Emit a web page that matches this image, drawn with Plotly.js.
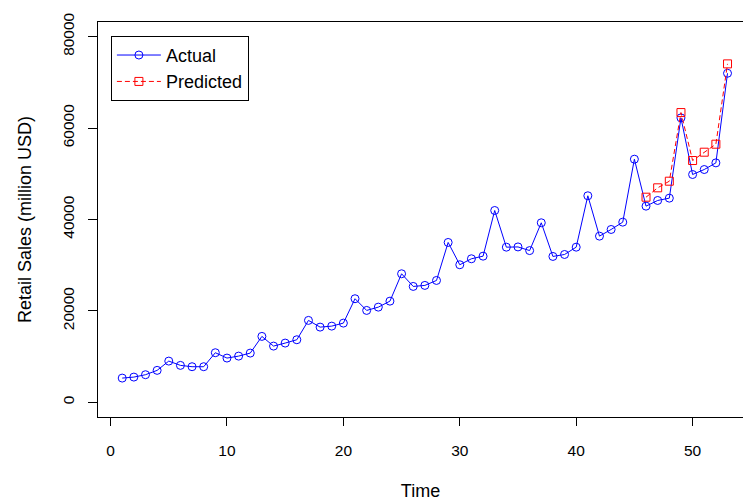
<!DOCTYPE html>
<html>
<head>
<meta charset="utf-8">
<script src="https://cdn.plot.ly/plotly-3.0.1.min.js"></script>
<style>html,body{margin:0;padding:0;background:#fff;}#chart{width:743px;height:502px;}</style>
</head>
<body>
<div id="chart"></div>
<script>
var timeActual = [1,2,3,4,5,6,7,8,9,10,11,12,13,14,15,16,17,18,19,20,21,22,23,24,25,26,27,28,29,30,31,32,33,34,35,36,37,38,39,40,41,42,43,44,45,46,47,48,49,50,51,52,53];
var actualSales = [5310,5530,6050,7000,9030,8090,7800,7800,10860,9690,10120,10780,14430,12310,12970,13700,17930,16460,16680,17340,22670,20110,20830,22140,28130,25360,25580,26670,34980,30100,31410,31980,41970,33950,34000,33200,39280,31920,32350,33950,45190,36360,37820,39420,53190,42920,44160,44670,62230,49840,50930,52390,71990];
var timePredicted = [46,47,48,49,50,51,52,53];
var predictedSales = [44880,46930,48380,63390,52900,54720,56470,74040];
var xTicks = [0,10,20,30,40,50];
var yTicks = [0,20000,40000,60000,80000];

var font = "Liberation Sans, Arial, sans-serif";

var traces = [
  {x: timeActual, y: actualSales, name: "Actual", type: "scatter", mode: "lines+markers",
   line: {color: "#0000ff", width: 1},
   marker: {symbol: "circle-open", size: 8, color: "#0000ff", line: {width: 1}}},
  {x: timePredicted, y: predictedSales, name: "Predicted", type: "scatter", mode: "lines+markers",
   line: {color: "#ff0000", width: 1, dash: "5px,3px"},
   marker: {symbol: "square-open", size: 8, color: "#ff0000", line: {width: 1}}}
];

var layout = {
  width: 743, height: 502,
  margin: {l: 98, r: 0, t: 22, b: 85},
  paper_bgcolor: "#fff", plot_bgcolor: "#fff",
  font: {family: font, size: 15, color: "#000"},
  showlegend: true,
  legend: {x: 0.02, y: 0.965, xanchor: "left", yanchor: "top",
           bordercolor: "#000", borderwidth: 1, bgcolor: "#fff", itemwidth: 44,
           font: {family: font, size: 18, color: "#000"}},
  xaxis: {range: [-1.08, 54.33], tickvals: xTicks, ticktext: xTicks.map(String),
          showgrid: false, zeroline: false, showline: true, mirror: true,
          linecolor: "#000", linewidth: 1, ticks: "outside", ticklen: 8, tickcolor: "#000",
          ticklabelstandoff: 11,
          tickfont: {family: font, size: 15.5, color: "#000"},
          title: {text: "Time", font: {family: font, size: 18, color: "#000"}, standoff: 26}},
  yaxis: {range: [-3200, 83200], tickvals: yTicks, ticktext: yTicks.map(String),
          showgrid: false, zeroline: false, showline: true, mirror: false,
          linecolor: "#000", linewidth: 1, ticks: "outside", ticklen: 9, tickcolor: "#000",
          tickangle: -90, ticklabelstandoff: 8,
          tickfont: {family: font, size: 15.5, color: "#000"},
          title: {text: "Retail Sales (million USD)", font: {family: font, size: 18, color: "#000"}, standoff: 23}}
};

Plotly.newPlot("chart", traces, layout, {displayModeBar: false, staticPlot: true});
</script>
</body>
</html>
